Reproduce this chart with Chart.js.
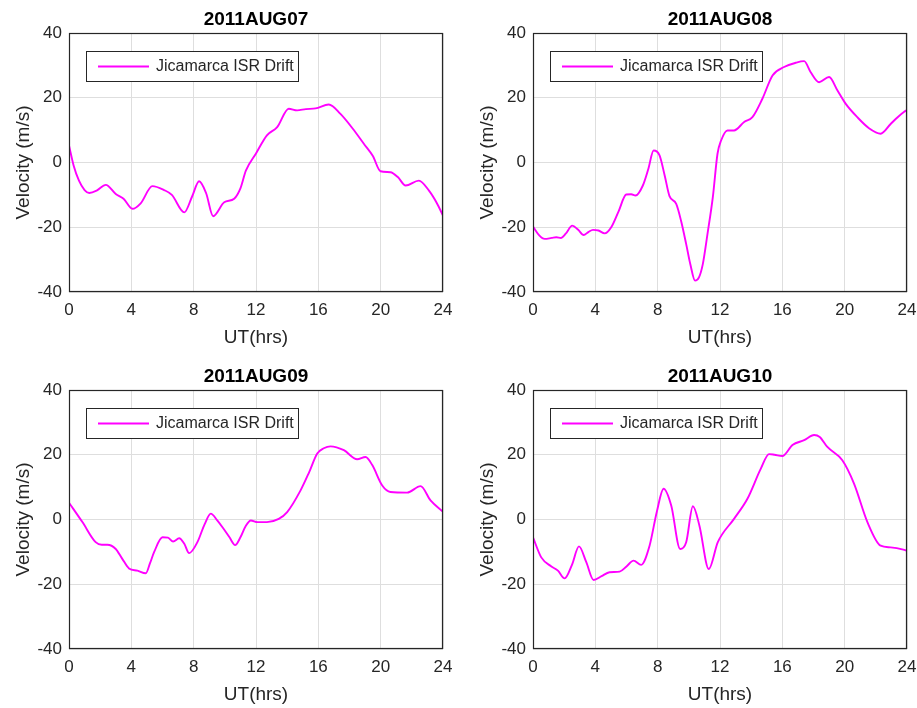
<!DOCTYPE html>
<html>
<head>
<meta charset="utf-8">
<title>Jicamarca ISR Drift</title>
<script src="https://cdn.jsdelivr.net/npm/chart.js@4.4.1/dist/chart.umd.min.js"></script>
<style>
    html, body {
        margin: 0;
        padding: 0;
        background: #ffffff;
        overflow: hidden;
    }
    .page {
        position: relative;
        width: 917px;
        height: 708px;
    }
    .page canvas {
        position: absolute;
    }
    #c07 { left: 0; top: 0; }
    #c08 { left: 464px; top: 0; }
    #c09 { left: 0; top: 357px; }
    #c10 { left: 464px; top: 357px; }
</style>
</head>
<body>
<div class="page">
    <canvas id="c07" width="458" height="354"></canvas>
    <canvas id="c08" width="458" height="354"></canvas>
    <canvas id="c09" width="458" height="354"></canvas>
    <canvas id="c10" width="458" height="354"></canvas>
</div>
<script>
// Values (UT hours / velocity m/s)
const hours07 = [0, 0.3, 0.64, 1.0, 1.3, 1.8, 2.36, 3.0, 3.5, 4.07, 4.6, 5.35, 6.1, 6.6, 7.4, 7.9, 8.35, 8.8, 9.25, 9.96, 10.6, 11.0, 11.35, 12.0, 12.7, 13.36, 14.1, 14.64, 15.2, 15.82, 16.67, 17.42, 18.2, 18.92, 19.5, 19.99, 20.63, 21.1, 21.6, 22.45, 23.1, 23.6, 24];
const vel07 = [5.3, -1.0, -5.6, -8.5, -9.4, -8.6, -6.9, -9.7, -11.2, -14.3, -12.6, -7.3, -8.5, -10.0, -15.4, -10.5, -5.8, -9.5, -16.6, -12.3, -11.2, -8.0, -2.5, 2.8, 8.4, 10.9, 16.6, 16.1, 16.5, 16.7, 17.9, 15.0, 10.5, 5.8, 2.0, -2.7, -3.0, -4.5, -7.1, -5.6, -8.7, -12.5, -16.4];

const hours08 = [0, 0.4, 0.75, 1.2, 1.5, 1.8, 2.1, 2.52, 2.9, 3.25, 3.55, 3.85, 4.2, 4.6, 5.02, 5.5, 5.98, 6.3, 6.58, 7.05, 7.4, 7.74, 8.12, 8.45, 8.76, 9.19, 9.5, 9.83, 10.1, 10.4, 10.65, 10.9, 11.2, 11.54, 11.84, 12.07, 12.48, 12.9, 13.55, 14.08, 14.72, 15.37, 16.11, 16.86, 17.4, 17.82, 18.36, 19.0, 19.53, 20.07, 20.81, 21.56, 22.31, 22.95, 23.4, 23.8, 24];
const vel08 = [-19.8, -22.5, -23.6, -23.3, -23.1, -23.3, -22.0, -19.5, -20.8, -22.4, -21.5, -20.8, -21.0, -21.9, -20.0, -15.0, -9.9, -9.8, -10.2, -7.1, -2.0, 3.7, 2.2, -4.0, -10.4, -12.8, -18.0, -25.2, -31.5, -36.5, -35.5, -31.3, -22.0, -10.7, 2.7, 6.8, 9.9, 9.9, 12.5, 14.0, 19.7, 26.9, 29.5, 30.8, 31.3, 27.9, 24.8, 26.4, 22.3, 18.1, 14.0, 10.6, 8.9, 11.9, 14.0, 15.6, 16.2];

const hours09 = [0, 0.86, 1.71, 2.1, 2.46, 3.0, 3.4, 3.85, 4.39, 4.93, 5.2, 5.46, 6.0, 6.35, 6.68, 7.07, 7.4, 7.71, 8.24, 8.7, 9.1, 9.5, 9.85, 10.3, 10.66, 11.0, 11.35, 11.67, 12.1, 12.7, 13.46, 14.0, 14.86, 15.4, 15.93, 16.35, 16.78, 17.64, 18.49, 19.03, 19.46, 20.1, 20.63, 21.7, 22.56, 23.2, 24];
const vel09 = [5.2, -0.8, -7.0, -7.8, -7.8, -9.1, -12.0, -15.1, -15.8, -16.6, -13.5, -10.1, -5.5, -5.6, -6.8, -5.8, -7.5, -10.4, -7.0, -1.5, 1.8, -0.2, -2.4, -5.5, -7.9, -5.5, -1.9, -0.3, -0.8, -0.8, 0.2, 2.3, 9.0, 14.5, 20.4, 22.0, 22.6, 21.4, 18.6, 19.3, 16.8, 10.5, 8.5, 8.3, 10.3, 5.9, 2.4];

const hours10 = [0, 0.53, 1.18, 1.6, 2.03, 2.5, 2.95, 3.42, 3.89, 4.4, 4.91, 5.56, 6.0, 6.45, 6.94, 7.48, 7.95, 8.38, 8.87, 9.44, 9.83, 10.26, 10.68, 11.28, 11.86, 12.9, 13.76, 14.62, 15.15, 15.5, 16.0, 16.65, 17.4, 18.04, 18.4, 18.89, 19.85, 20.6, 21.46, 22.31, 22.95, 23.76, 24];
const vel10 = [-5.5, -11.7, -14.5, -15.8, -18.2, -14.0, -8.3, -13.2, -18.7, -17.5, -16.3, -16.1, -14.5, -12.7, -14.0, -8.1, 2.5, 9.5, 4.3, -9.1, -7.0, 4.1, -1.9, -15.3, -7.0, 0.2, 6.4, 15.7, 20.2, 20.0, 19.6, 23.0, 24.5, 26.1, 25.5, 22.4, 18.3, 11.1, -0.8, -8.1, -8.6, -9.3, -9.7];

const xTicks = [0, 4, 8, 12, 16, 20, 24];
const yTicks = [-40, -20, 0, 20, 40];
const seriesLabel = 'Jicamarca ISR Drift';

const FONT = '"Liberation Sans", Arial, Helvetica, sans-serif';
const AXIS_COLOR = '#262626';
const LINE_COLOR = '#ff00ff';

// MATLAB style frame + legend box drawn inside the axes
const frameAndLegend = {
    id: 'frameAndLegend',
    afterDraw(chart) {
        const { ctx, chartArea: a } = chart;
        ctx.save();
        ctx.strokeStyle = AXIS_COLOR;
        ctx.lineWidth = 1.2;
        ctx.strokeRect(a.left + 0.5, a.top + 0.5, a.right - a.left - 1, a.bottom - a.top - 1);

        // legend
        const bx = a.left + 17, by = a.top + 18;
        ctx.fillStyle = '#ffffff';
        ctx.fillRect(bx, by, 212, 30);
        ctx.lineWidth = 1;
        ctx.strokeRect(bx + 0.5, by + 0.5, 212, 30);
        ctx.strokeStyle = LINE_COLOR;
        ctx.lineWidth = 1.8;
        ctx.beginPath();
        ctx.moveTo(bx + 12, by + 15.5);
        ctx.lineTo(bx + 63, by + 15.5);
        ctx.stroke();
        ctx.fillStyle = AXIS_COLOR;
        ctx.font = '16px ' + FONT;
        ctx.textBaseline = 'middle';
        ctx.fillText(chart.data.datasets[0].label, bx + 70, by + 16);
        ctx.restore();
    }
};

function makePanel(canvasId, title, hours, vel) {
    const ctx = document.getElementById(canvasId).getContext('2d');

    const config = {
        type: 'line',
        data: {
            datasets: [{
                label: seriesLabel,
                data: hours.map((h, i) => ({ x: h, y: vel[i] })),
                borderColor: LINE_COLOR,
                borderWidth: 1.9,
                pointRadius: 0,
                cubicInterpolationMode: 'monotone',
                fill: false
            }]
        },
        options: {
            responsive: false,
            animation: false,
            layout: { padding: { left: 0, right: 15, top: 0, bottom: 0 } },
            plugins: {
                legend: { display: false },
                tooltip: { enabled: false },
                title: {
                    display: true,
                    fullSize: false, // center over the axes, not the canvas
                    text: title,
                    color: '#000000',
                    font: { family: FONT, size: 19, weight: 'bold' },
                    padding: { top: 8, bottom: 2.2 }
                }
            },
            scales: {
                x: {
                    type: 'linear',
                    min: 0,
                    max: 24,
                    afterBuildTicks: scale => {
                        scale.ticks = xTicks.map(v => ({ value: v }));
                    },
                    afterFit: scale => {
                        scale.height = 62;
                        // let the layout padding decide the right edge
                        scale.paddingLeft = 0;
                        scale.paddingRight = 0;
                    },
                    ticks: {
                        color: AXIS_COLOR,
                        font: { family: FONT, size: 17 },
                        padding: 8,
                        maxRotation: 0,
                        autoSkip: false
                    },
                    grid: { color: '#dedede', drawTicks: false },
                    border: { display: false },
                    title: {
                        display: true,
                        text: 'UT(hrs)',
                        color: AXIS_COLOR,
                        font: { family: FONT, size: 19 },
                        padding: { top: 0, bottom: 5 }
                    }
                },
                y: {
                    min: -40,
                    max: 40,
                    afterBuildTicks: scale => {
                        scale.ticks = yTicks.map(v => ({ value: v }));
                    },
                    afterFit: scale => {
                        scale.width = 69;
                        scale.paddingTop = 0;
                        scale.paddingBottom = 0;
                    },
                    ticks: {
                        color: AXIS_COLOR,
                        font: { family: FONT, size: 17 },
                        padding: 7
                    },
                    grid: { color: '#dedede', drawTicks: false },
                    border: { display: false },
                    title: {
                        display: true,
                        text: 'Velocity (m/s)',
                        color: AXIS_COLOR,
                        font: { family: FONT, size: 19 },
                        padding: { top: 12.5, bottom: 0 }
                    }
                }
            }
        },
        plugins: [frameAndLegend]
    };

    return new Chart(ctx, config);
}

makePanel('c07', '2011AUG07', hours07, vel07);
makePanel('c08', '2011AUG08', hours08, vel08);
makePanel('c09', '2011AUG09', hours09, vel09);
makePanel('c10', '2011AUG10', hours10, vel10);
</script>
</body>
</html>
